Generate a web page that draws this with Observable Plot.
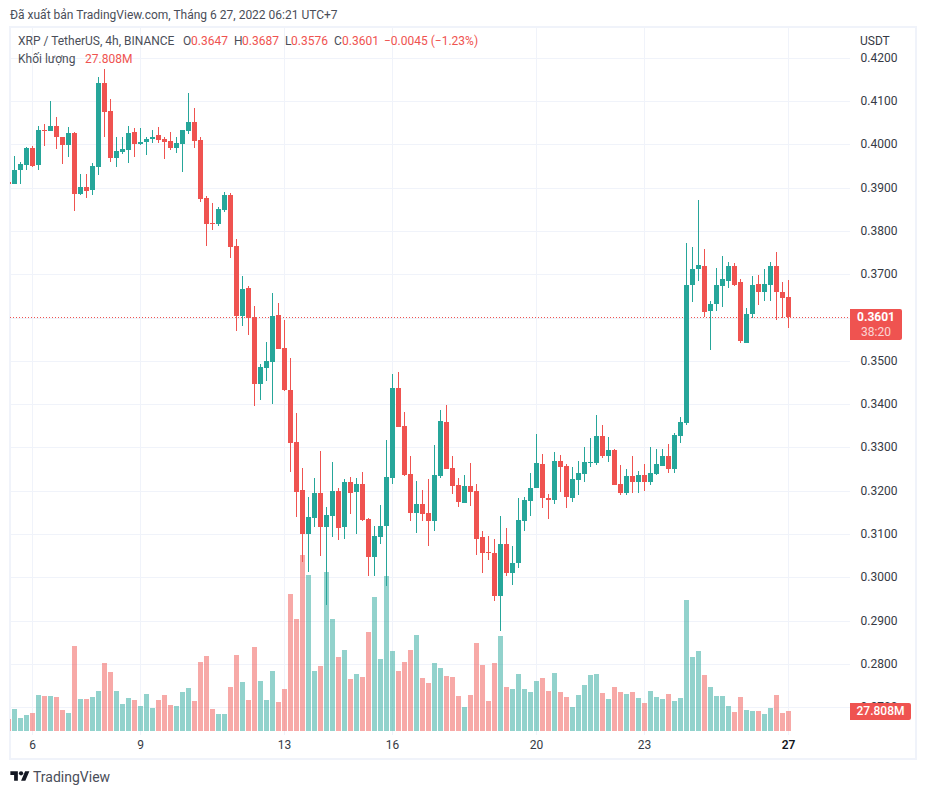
<!DOCTYPE html>
<html lang="vi">
<head>
<meta charset="utf-8">
<script src="https://cdn.jsdelivr.net/npm/d3@7"></script>
<script src="https://cdn.jsdelivr.net/npm/@observablehq/plot@0.6"></script>
<style>
  html, body { margin: 0; padding: 0; background: #fff; }
  body { width: 926px; height: 794px; overflow: hidden; position: relative;
         font-family: Roboto, "Noto Sans", sans-serif; color: #4a4e59; }
  .frame { position: absolute; left: 9px; top: 26px; width: 904px; height: 730px; border: 2px solid #f0f3fa; }
  .layer { position: absolute; left: 0; top: 0; }
  .t { position: absolute; font-size: 12px; line-height: 16px; white-space: pre; }
  .red { color: #ef5350; }
  .tag { position: absolute; left: 850px; background: #ef5350; color: #fff; border-radius: 0 2px 2px 0; text-align: center; font-size: 12px; }
</style>
</head>
<body>
<div class="frame"></div>
<div id="chart"></div>
<div class="t" style="left:10px;top:7px;color:#4a4e59">Đã xuất bản TradingView.com, Tháng 6 27, 2022 06:21 UTC+7</div>
<div class="t" style="left:18px;top:33px">XRP / TetherUS, 4h, BINANCE</div>
<div class="t" style="left:183px;top:33px">O</div><div class="t red" style="left:191px;top:33px">0.3647</div>
<div class="t" style="left:234px;top:33px">H</div><div class="t red" style="left:242px;top:33px">0.3687</div>
<div class="t" style="left:285px;top:33px">L</div><div class="t red" style="left:291px;top:33px">0.3576</div>
<div class="t" style="left:334px;top:33px">C</div><div class="t red" style="left:342px;top:33px">0.3601</div>
<div class="t red" style="left:384px;top:33px">−0.0045 (−1.23%)</div>
<div class="t" style="left:18px;top:51px">Khối lượng</div>
<div class="t red" style="left:85px;top:51px">27.808M</div>
<div class="t" style="left:860px;top:33px;font-size:12px;color:#363a45">USDT</div>
<div class="tag" style="top:309px;width:52px;height:31px;line-height:15px;padding-top:1px;box-sizing:border-box">
  <div style="font-weight:700">0.3601</div><div style="opacity:.75">38:20</div>
</div>
<div class="tag" style="top:703px;width:61px;height:17px;line-height:17px;font-weight:500">27.808M</div>
<svg style="position:absolute;left:10px;top:769px" width="20" height="15" viewBox="0 0 36 28">
  <path fill="#131722" d="M14 22H7V11H0V4h14v18zM28 22h-8l7.5-18h8L28 22z"/><circle fill="#131722" cx="20" cy="8" r="4"/>
</svg>
<div class="t" style="left:33px;top:769px;font-size:14px;color:#4a4e59">TradingView</div>

<script>
// 4h candles of XRP/USDT; the first one is cut off by the left edge of the pane.
const firstIndex = -1;
const opens = [.3913,.3908,.3940,.3952,.3991,.3952,.4033,.4030,.4042,.4018,.3998,.4025,.3885,.3901,.3894,.3947,.4141,.4076,.3968,.3982,.3986,.4028,.4000,.4005,.4012,.4021,.4012,.4007,.3991,.4000,.4030,.4051,.4009,.3875,.3818,.3815,.3848,.3882,.3765,.3603,.3668,.3601,.3446,.3483,.3497,.3605,.3529,.3433,.3313,.3202,.3101,.3138,.3195,.3117,.3142,.3200,.3117,.3219,.3198,.3216,.3135,.3048,.3094,.3119,.3230,.3438,.3350,.3239,.3149,.3170,.3149,.3131,.3235,.3359,.3253,.3214,.3172,.3212,.3200,.3092,.3059,.3057,.2956,.3076,.3009,.3032,.3131,.3177,.3207,.3262,.3182,.3179,.3269,.3258,.3184,.3225,.3239,.3265,.3265,.3327,.3279,.3295,.3216,.3195,.3235,.3221,.3237,.3221,.3239,.3258,.3281,.3251,.3327,.3356,.3674,.3711,.3720,.3614,.3632,.3672,.3685,.3718,.3681,.3542,.3607,.3678,.3658,.3676,.3718,.3660,.3647];
const highs = [.3913,.3972,.3959,.3994,.3995,.4042,.4046,.4099,.4062,.4018,.4039,.4028,.3931,.3931,.3956,.4155,.4173,.4104,.4016,.4016,.4042,.4037,.4037,.4016,.4032,.4039,.4016,.4028,.4016,.4032,.4118,.4083,.4016,.3880,.3864,.3855,.3889,.3887,.3781,.3695,.3672,.3626,.3492,.3543,.3656,.3633,.3594,.3507,.3380,.3253,.3186,.3230,.3292,.3163,.3267,.3207,.3228,.3232,.3230,.3244,.3138,.3119,.3168,.3318,.3470,.3475,.3382,.3279,.3223,.3202,.3228,.3306,.3387,.3398,.3281,.3230,.3237,.3265,.3216,.3106,.3096,.3089,.3142,.3115,.3073,.3182,.3186,.3242,.3332,.3285,.3193,.3290,.3283,.3262,.3255,.3269,.3302,.3322,.3375,.3352,.3325,.3297,.3260,.3249,.3281,.3246,.3262,.3302,.3297,.3297,.3309,.3334,.3371,.3773,.3762,.3872,.3759,.3637,.3715,.3743,.3729,.3727,.3690,.3621,.3695,.3699,.3711,.3729,.3752,.3681,.3687];
const lows = [.3908,.3908,.3908,.3940,.3947,.3940,.3995,.4030,.3988,.3954,.3970,.3845,.3882,.3875,.3882,.3928,.4016,.3958,.3947,.3977,.3956,.3970,.3998,.3975,.4002,.4002,.3965,.3986,.3979,.3935,.4023,.3991,.3866,.3765,.3802,.3811,.3843,.3737,.3569,.3580,.3559,.3396,.3409,.3453,.3400,.3527,.3430,.3244,.3140,.3036,.3013,.3117,.3050,.2937,.3092,.3087,.3089,.3147,.3101,.3129,.3004,.3002,.3078,.2981,.3216,.3348,.3235,.3131,.3103,.3131,.3073,.3106,.3230,.3249,.3193,.3163,.3172,.3165,.3052,.3009,.3041,.2946,.2875,.3004,.2983,.3022,.3106,.3142,.3207,.3161,.3135,.3170,.3198,.3159,.3175,.3189,.3219,.3255,.3260,.3276,.3267,.3214,.3191,.3191,.3195,.3195,.3200,.3214,.3237,.3258,.3242,.3242,.3311,.3351,.3635,.3685,.3602,.3524,.3616,.3625,.3667,.3672,.3542,.3542,.3600,.3628,.3639,.3639,.3595,.3600,.3576];
const closes = [.3908,.3940,.3954,.3991,.3949,.4032,.4031,.4042,.4016,.3998,.4025,.3885,.3901,.3892,.3949,.4141,.4074,.3968,.3984,.3988,.4025,.4000,.4005,.4012,.4018,.4009,.4005,.3991,.4002,.4032,.4051,.4007,.3873,.3815,.3815,.3850,.3882,.3762,.3603,.3665,.3599,.3446,.3486,.3499,.3603,.3527,.3432,.3311,.3198,.3101,.3140,.3195,.3117,.3145,.3200,.3115,.3219,.3195,.3216,.3133,.3046,.3096,.3119,.3232,.3438,.3348,.3237,.3149,.3170,.3147,.3131,.3237,.3362,.3251,.3212,.3175,.3212,.3198,.3089,.3055,.3055,.2956,.3076,.3009,.3034,.3133,.3179,.3207,.3265,.3182,.3179,.3269,.3255,.3186,.3228,.3242,.3267,.3267,.3327,.3279,.3295,.3214,.3195,.3235,.3221,.3237,.3221,.3242,.3262,.3281,.3251,.3329,.3359,.3676,.3713,.3722,.3612,.3632,.3674,.3688,.3718,.3676,.3545,.3609,.3676,.3658,.3678,.3718,.3658,.3644,.3601];
// Volume per candle, in millions.
const volumes = [16.7,30.6,18.1,22.2,25.0,50.1,48.7,48.7,47.3,29.2,25.0,118.2,44.5,44.5,47.3,55.6,94.6,82.0,55.6,37.5,45.9,43.1,34.8,51.4,32.0,43.1,50.1,36.2,34.8,54.2,59.8,41.7,95.9,104.3,30.6,23.6,23.6,61.2,105.7,68.1,43.1,116.8,69.5,43.1,83.4,40.3,58.4,190.5,155.7,244.7,216.9,83.4,90.4,221.1,155.7,102.9,112.6,72.3,79.3,75.1,137.7,186.3,100.1,215.5,111.2,83.4,95.9,112.6,133.5,73.7,66.7,94.6,87.6,76.5,75.1,48.7,33.4,50.1,122.4,91.8,41.7,94.6,132.1,61.2,58.4,79.3,58.4,54.2,69.5,73.7,55.6,80.6,54.2,47.3,33.4,50.1,64.0,77.9,79.3,52.8,44.5,61.2,54.2,51.4,54.2,45.9,38.9,55.6,47.3,44.5,51.4,41.7,45.9,182.2,102.9,111.2,77.9,61.2,48.7,48.7,34.8,26.4,47.3,29.2,27.8,27.8,23.6,32.0,50.1,25.0,27.808];

const priceTicks = [0.27,0.28,0.29,0.30,0.31,0.32,0.33,0.34,0.35,0.36,0.37,0.38,0.39,0.40,0.41,0.42];
// The 0.3600 label sits under the last-price tag in the reference, so only its grid line shows.
const priceLabels = priceTicks.filter(p => p !== 0.36);
const dayTickIndex = [3,21,45,63,87,105];
const dayTickLabels = ["6","9","13","16","20","23"];
const lastDayIndex = [129];
const lastDayLabel = ["27"];
const lastPrice = 0.3601;

const GREEN = "#26a69a", RED = "#ef5350", GRID = "#f0f3fa", TEXT = "#363a45";
const rows = opens.map((o, k) => ({
  i: firstIndex + k, o, h: highs[k], l: lows[k], c: closes[k], v: volumes[k],
  color: closes[k] >= o && !(k === 0) ? GREEN : RED
}));

const base = {
  width: 926, height: 794, marginLeft: 10, marginRight: 76, marginTop: 27,
  x: { domain: [-2 / 3, 139 + 1 / 3], axis: null },
  style: { background: "transparent", fontFamily: "Roboto, 'Noto Sans', sans-serif", fontSize: "12px", overflow: "visible" }
};
const priceY = { domain: [0.26358, 0.42709], round: true, axis: null };

// Bottom layer: grid and axes.
const gridPlot = Plot.plot({
  ...base, marginBottom: 59, y: priceY,
  marks: [
    Plot.ruleY(priceTicks, { stroke: GRID, strokeWidth: 1 }),
    Plot.ruleX(dayTickIndex.concat(lastDayIndex), { stroke: GRID, strokeWidth: 1 }),
    Plot.axisY({ anchor: "right", ticks: priceLabels, tickSize: 0, tickPadding: 10, textAnchor: "start",
                 tickFormat: d => d.toFixed(4), fill: TEXT, fontSize: 12, label: null }),
    Plot.axisX({ ticks: dayTickIndex, tickSize: 0, tickPadding: 5, fill: TEXT, fontSize: 12, label: null,
                 tickFormat: d => dayTickLabels[dayTickIndex.indexOf(d)] }),
    Plot.axisX({ ticks: lastDayIndex, tickSize: 0, tickPadding: 5, fill: "#131722", fontSize: 12, fontWeight: 600, label: null,
                 tickFormat: d => lastDayLabel[lastDayIndex.indexOf(d)] })
  ]
});

// Middle layer: volume histogram with its own scale.
const volumePlot = Plot.plot({
  ...base, marginBottom: 63,
  y: { domain: [0, 978.9], axis: null, round: true },
  marks: [
    Plot.ruleX(rows, { x: "i", y1: 0, y2: "v", stroke: "color", strokeOpacity: 0.5, strokeWidth: 5, clip: true })
  ]
});

// Top layer: last-price line and candles.
const candlePlot = Plot.plot({
  ...base, marginBottom: 59, y: priceY,
  color: { type: "identity" },
  marks: [
    Plot.ruleY([lastPrice], { stroke: RED, strokeWidth: 1, strokeDasharray: "1 2" }),
    Plot.ruleX(rows, { x: "i", y1: "l", y2: "h", stroke: "color", strokeWidth: 1, clip: true }),
    Plot.ruleX(rows, { x: "i", y1: "o", y2: "c", stroke: "color", strokeWidth: 5, clip: true })
  ]
});

const host = document.getElementById("chart");
for (const svg of [gridPlot, volumePlot, candlePlot]) {
  svg.setAttribute("class", (svg.getAttribute("class") || "") + " layer");
  svg.style.position = "absolute"; svg.style.left = "0"; svg.style.top = "0";
  host.appendChild(svg);
}
</script>
</body>
</html>
